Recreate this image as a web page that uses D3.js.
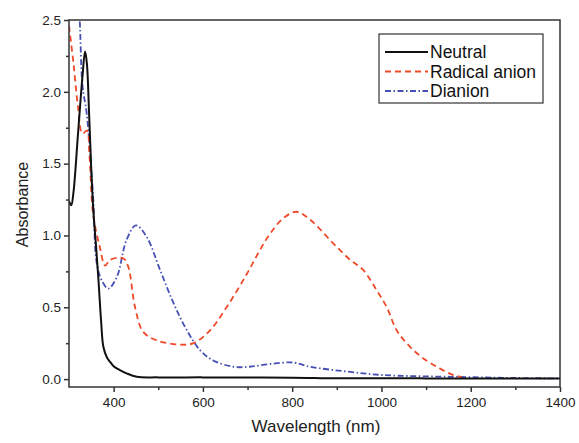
<!DOCTYPE html>
<html><head><meta charset="utf-8">
<script src="https://cdn.jsdelivr.net/npm/d3@7"></script>
<style>body{margin:0;background:#fff}svg{display:block}</style>
</head><body>
<script>
const seriesNames = ["Neutral", "Radical anion", "Dianion"];
const neutralX = [300,305,310,320,330,336,340,345,350,355,360,366,372,377,385,392,400,410,429,452,500,600,700,800,850,900,1000,1100,1200,1300,1400];
const neutralY = [1.24,1.21,1.30,1.70,2.10,2.28,2.20,1.85,1.45,1.15,0.95,0.69,0.40,0.225,0.15,0.12,0.09,0.07,0.04,0.016,0.012,0.012,0.011,0.010,0.007,0.006,0.006,0.005,0.005,0.004,0.004];
const radicalX = [300,310,320,330,340,346,354,369,381,392,422,433,448,466,496,549,579,616,653,698,728,750,780,810,840,892,930,959,989,1012,1034,1064,1094,1131,1161,1180];
const radicalY = [2.46,2.20,1.90,1.71,1.73,1.55,1.15,0.92,0.79,0.83,0.84,0.78,0.50,0.33,0.27,0.24,0.25,0.34,0.50,0.73,0.90,1.01,1.12,1.165,1.11,0.945,0.83,0.76,0.62,0.50,0.34,0.225,0.144,0.074,0.028,0.014];
const dianionX = [318,324,330,340,354,362,373,388,407,429,450,474,504,534,564,594,623,668,705,750,803,840,930,1004,1154,1300,1400];
const dianionY = [2.75,2.50,2.05,1.84,1.27,0.81,0.69,0.63,0.71,0.97,1.07,0.99,0.76,0.53,0.34,0.20,0.13,0.086,0.086,0.105,0.115,0.086,0.05,0.028,0.016,0.008,0.005];
const xTicks = [400,600,800,1000,1200,1400];
const xMinor = [500,700,900,1100,1300];
const yTicks = [0.0,0.5,1.0,1.5,2.0,2.5];
const yMinor = [0.25,0.75,1.25,1.75,2.25];

const W = 579, H = 443;
const L = 69, R = 560, T = 20, B = 387;
const svg = d3.select("body").append("svg").attr("width", W).attr("height", H);
const x = d3.scaleLinear().domain([300,1400]).range([L,R]);
const y = d3.scaleLinear().domain([-0.055,2.5]).range([B,T]);

svg.append("clipPath").attr("id","clip").append("rect").attr("x",L).attr("y",T).attr("width",R-L).attr("height",B-T);

const line = d3.line().x(d=>x(d[0])).y(d=>y(d[1])).curve(d3.curveCatmullRom.alpha(0.5));
const zip = (a,b)=>a.map((v,i)=>[v,b[i]]);
const g = svg.append("g").attr("clip-path","url(#clip)");
const styles = [
  {data: zip(neutralX,neutralY), color:"#111", w:2, dash:null},
  {data: zip(radicalX,radicalY), color:"#ee4a2a", w:1.8, dash:"6,4"},
  {data: zip(dianionX,dianionY), color:"#4650b4", w:1.8, dash:"6,2.5,1.5,2.5"}
];
[2,1,0].forEach(i=>{
  const s = styles[i];
  g.append("path").attr("d", line(s.data)).attr("fill","none").attr("stroke",s.color)
   .attr("stroke-width",s.w).attr("stroke-dasharray",s.dash);
});

// frame
svg.append("rect").attr("x",L).attr("y",T).attr("width",R-L).attr("height",B-T)
  .attr("fill","none").attr("stroke","#333").attr("stroke-width",1.5);

const font = "Liberation Sans, Arial, sans-serif";
// x axis
const xa = svg.append("g").attr("transform",`translate(0,${B})`)
  .call(d3.axisBottom(x).tickValues(xTicks).tickSize(5).tickSizeOuter(0).tickPadding(5).tickFormat(d3.format("d")));
xa.select(".domain").remove();
xa.selectAll(".tick line").attr("stroke","#333").attr("stroke-width",1.5);
xa.selectAll("text").attr("font-family",font).attr("font-size",13.5).attr("fill","#222");
const xm = svg.append("g").attr("transform",`translate(0,${B})`)
  .call(d3.axisBottom(x).tickValues(xMinor).tickSize(3).tickFormat(""));
xm.select(".domain").remove();
xm.selectAll(".tick line").attr("stroke","#333").attr("stroke-width",1.5);

// y axis
const ya = svg.append("g").attr("transform",`translate(${L},0)`)
  .call(d3.axisLeft(y).tickValues(yTicks).tickSize(5).tickPadding(3).tickFormat(d3.format(".1f")));
ya.select(".domain").remove();
ya.selectAll(".tick line").attr("stroke","#333").attr("stroke-width",1.5);
ya.selectAll("text").attr("font-family",font).attr("font-size",13.5).attr("fill","#222");
const ym = svg.append("g").attr("transform",`translate(${L},0)`)
  .call(d3.axisLeft(y).tickValues(yMinor).tickSize(3).tickFormat(""));
ym.select(".domain").remove();
ym.selectAll(".tick line").attr("stroke","#333").attr("stroke-width",1.5);

svg.append("text").attr("x",316).attr("y",432).attr("text-anchor","middle")
  .attr("font-family",font).attr("font-size",17).attr("fill","#222").text("Wavelength (nm)");
svg.append("text").attr("transform",`translate(28,${(T+B)/2 + 1}) rotate(-90)`).attr("text-anchor","middle")
  .attr("font-family",font).attr("font-size",16).attr("fill","#222").text("Absorbance");

// legend
const lg = svg.append("g");
lg.append("rect").attr("x",379).attr("y",34).attr("width",164).attr("height",69)
  .attr("fill","#fff").attr("stroke","#333").attr("stroke-width",1.2);
seriesNames.forEach((n,i)=>{
  const yy = 52 + i*19.5;
  const s = styles[i];
  lg.append("line").attr("x1",385).attr("x2",428).attr("y1",yy).attr("y2",yy)
    .attr("stroke",s.color).attr("stroke-width",s.w).attr("stroke-dasharray",s.dash);
  lg.append("text").attr("x",430).attr("y",yy+6).attr("font-family",font).attr("font-size",17.5)
    .attr("fill","#111").text(n);
});
</script>
</body></html>
